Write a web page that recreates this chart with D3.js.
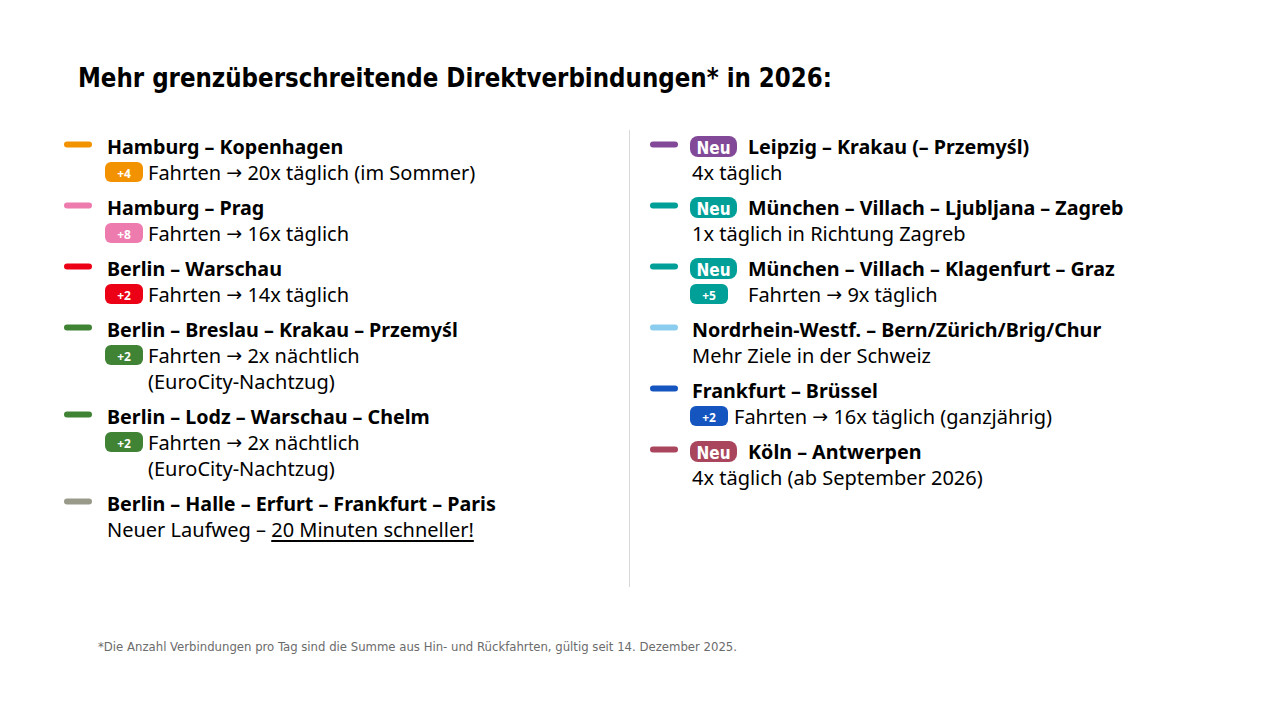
<!DOCTYPE html>
<html>
<head>
<meta charset="utf-8">
<script src="https://cdn.jsdelivr.net/npm/d3@7"></script>
<style>
  body { margin: 0; background: #fff; }
  svg { display: block; font-family: "Noto Sans", sans-serif; }
</style>
</head>
<body>
<div id="chart"></div>
<script>
const titleText = "Mehr grenzüberschreitende Direktverbindungen* in 2026:";
const footnote = "*Die Anzahl Verbindungen pro Tag sind die Summe aus Hin- und Rückfahrten, gültig seit 14. Dezember 2025.";

// left column
const leftRoutes = [
  "Hamburg – Kopenhagen",
  "Hamburg – Prag",
  "Berlin – Warschau",
  "Berlin – Breslau – Krakau – Przemyśl",
  "Berlin – Lodz – Warschau – Chelm",
  "Berlin – Halle – Erfurt – Frankfurt – Paris"
];
const leftColors = ["#f39200", "#ee7bae", "#ec0016", "#408335", "#408335", "#9a9a8a"];
const leftPlus = ["+4", "+8", "+2", "+2", "+2", null];
const leftDetails = [
  ["Fahrten → 20x täglich (im Sommer)"],
  ["Fahrten → 16x täglich"],
  ["Fahrten → 14x täglich"],
  ["Fahrten → 2x nächtlich", "(EuroCity-Nachtzug)"],
  ["Fahrten → 2x nächtlich", "(EuroCity-Nachtzug)"],
  ["Neuer Laufweg – |20 Minuten schneller!"]
];

// right column
const rightRoutes = [
  "Leipzig – Krakau (– Przemyśl)",
  "München – Villach – Ljubljana – Zagreb",
  "München – Villach – Klagenfurt – Graz",
  "Nordrhein-Westf. – Bern/Zürich/Brig/Chur",
  "Frankfurt – Brüssel",
  "Köln – Antwerpen"
];
const rightColors = ["#814997", "#00a099", "#00a099", "#8bcdee", "#1455c0", "#a9455d"];
const rightNew = [true, true, true, false, false, true];
const rightPlus = [null, null, "+5", null, "+2", null];
const rightDetails = [
  ["4x täglich"],
  ["1x täglich in Richtung Zagreb"],
  ["Fahrten → 9x täglich"],
  ["Mehr Ziele in der Schweiz"],
  ["Fahrten → 16x täglich (ganzjährig)"],
  ["4x täglich (ab September 2026)"]
];

const W = 1280, H = 720;
const svg = d3.select("#chart").append("svg").attr("width", W).attr("height", H);

svg.append("text")
  .attr("x", 78).attr("y", 87)
  .attr("textLength", 754).attr("lengthAdjust", "spacingAndGlyphs")
  .style("font-family", "'DejaVu Sans Condensed', 'DejaVu Sans', sans-serif")
  .style("font-weight", "bold").style("font-size", "27px").style("fill", "#000")
  .text(titleText);

// divider
svg.append("line")
  .attr("x1", 629.5).attr("x2", 629.5).attr("y1", 130).attr("y2", 587)
  .attr("stroke", "#d9d9d9").attr("stroke-width", 1);

svg.append("text")
  .attr("x", 98).attr("y", 651)
  .style("font-family", "'DejaVu Sans Condensed', 'DejaVu Sans', sans-serif")
  .style("font-size", "12px").style("fill", "#6b6b6b")
  .attr("textLength", 639).attr("lengthAdjust", "spacingAndGlyphs")
  .text(footnote);

// vertical placement: line units + group gaps
const lineH = 26, groupGap = 9;
const yScale = d3.scaleLinear().domain([0, 1]).range([146, 146 + lineH]);

function buildColumn(routes, colors, isNew, plus, details, cfg) {
  let lines = 0;
  const items = routes.map((r, i) => {
    const it = { route: r, color: colors[i], isNew: isNew[i], plus: plus[i], details: details[i],
                 y: yScale(lines) + i * groupGap };
    lines += 1 + details[i].length;
    return it;
  });

  const g = svg.append("g");
  const grp = g.selectAll("g.item").data(items).enter().append("g").attr("class", "item");

  grp.append("line")
    .attr("x1", cfg.dashX).attr("x2", cfg.dashX + 22)
    .attr("y1", d => d.y - 1.5).attr("y2", d => d.y - 1.5)
    .attr("stroke", d => d.color).attr("stroke-width", 6).attr("stroke-linecap", "round");

  // Neu badge
  const nb = grp.filter(d => d.isNew);
  nb.append("rect")
    .attr("x", cfg.textX - 2).attr("y", d => d.y - 10).attr("width", 47).attr("height", 21)
    .attr("rx", 8).attr("fill", d => d.color);
  nb.append("text")
    .attr("x", cfg.textX - 2 + 23.5).attr("y", d => d.y + 2)
    .attr("text-anchor", "middle").attr("dominant-baseline", "central")
    .style("font-family", "'DejaVu Sans Condensed', 'DejaVu Sans', sans-serif")
    .style("font-weight", "bold").style("font-size", "17px").style("fill", "#fff")
    .text("Neu");

  grp.append("text")
    .attr("x", d => d.isNew ? cfg.textX + 56 : cfg.textX)
    .attr("y", d => d.y).attr("dominant-baseline", "central")
    .style("font-weight", "bold").style("font-size", "19.7px").style("fill", "#000")
    .text(d => d.route);

  grp.each(function(d) {
    const sel = d3.select(this);
    d.details.forEach((txt, k) => {
      const yy = d.y + (k + 1) * lineH;
      let tx = cfg.textX;
      if (d.plus) {
        if (k === 0) {
          sel.append("rect")
            .attr("x", cfg.textX - 2).attr("y", yy - 10).attr("width", 38).attr("height", 20)
            .attr("rx", 6).attr("fill", d.color);
          sel.append("text")
            .attr("x", cfg.textX - 2 + 19).attr("y", yy + 1)
            .attr("text-anchor", "middle").attr("dominant-baseline", "central")
            .style("font-weight", "bold").style("font-size", "12px").style("fill", "#fff")
            .text(d.plus);
        }
        tx = d.isNew ? cfg.textX + 56 : cfg.textX + cfg.plusGap;
      }
      const t = sel.append("text")
        .attr("x", tx).attr("y", yy).attr("dominant-baseline", "central")
        .style("font-size", "20px").style("fill", "#000");
      // split off the underlined part ("|") and the arrow, which uses a larger glyph
      const [plain, under] = txt.split("|");
      plain.split("→").forEach((p, j) => {
        if (j > 0) t.append("tspan").style("font-family", "'DejaVu Sans', sans-serif").style("font-size", "19px").text("→");
        t.append("tspan").text(p);
      });
      if (under) t.append("tspan").style("text-decoration", "underline").text(under);
    });
  });
}

buildColumn(leftRoutes, leftColors, leftRoutes.map(() => false), leftPlus, leftDetails,
  { dashX: 67, textX: 107, plusGap: 41 });
buildColumn(rightRoutes, rightColors, rightNew, rightPlus, rightDetails,
  { dashX: 653, textX: 692, plusGap: 42 });
</script>
</body>
</html>
